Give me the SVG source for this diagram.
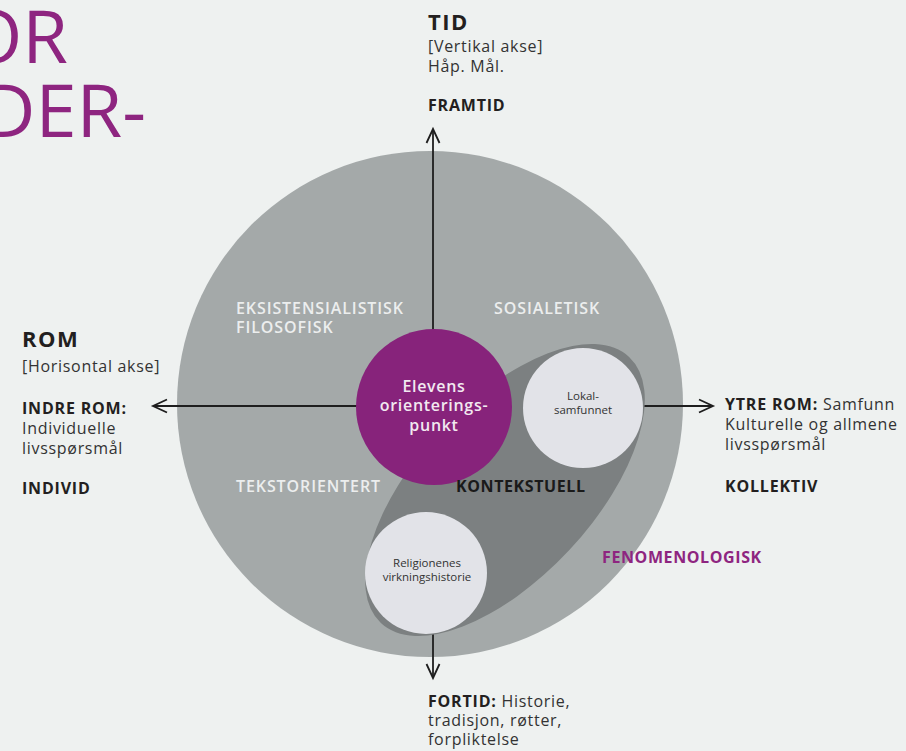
<svg xmlns="http://www.w3.org/2000/svg" width="906" height="751" viewBox="0 0 906 751">
  <style>
    text { font-family: "Open Sans", "Noto Sans", "Liberation Sans", sans-serif; }
    .big { font-size: 74px; font-weight: 400; fill: #8e2580; }
    .head { font-size: 22px; font-weight: 700; fill: #231f20; letter-spacing: 1.5px; }
    .body { font-size: 16px; font-weight: 400; fill: #333333; letter-spacing: 0.7px; }
    .bold { font-size: 16px; font-weight: 700; fill: #231f20; letter-spacing: 0.8px; }
    .quad { font-size: 16px; font-weight: 600; fill: #eceeee; letter-spacing: 0.9px; }
    .ctx { font-size: 16px; font-weight: 700; fill: #1a1a1a; letter-spacing: 0.6px; }
    .feno { font-size: 16px; font-weight: 700; fill: #8e2580; letter-spacing: 0.6px; }
    .center { font-size: 16px; font-weight: 600; fill: #f2e9f0; text-anchor: middle; letter-spacing: 0.7px; }
    .small { font-size: 11.5px; font-weight: 400; fill: #333333; text-anchor: middle; }
    .axis { stroke: #1e1e1e; stroke-width: 1.8; fill: none; }
  </style>
  <defs>
    <marker id="chev" markerUnits="userSpaceOnUse" markerWidth="20" markerHeight="16" viewBox="-16 -8 20 16" refX="0" refY="0" orient="auto-start-reverse" overflow="visible">
      <path d="M-14,-6.5 L0,0 L-14,6.5" fill="none" stroke="#1e1e1e" stroke-width="1.8"/>
    </marker>
  </defs>

  <rect x="0" y="0" width="906" height="751" fill="#eef1f0"/>

  <g id="title">
    <text class="big" x="68" y="63" text-anchor="end">OR</text>
    <text class="big" x="146" y="137" text-anchor="end">DER-</text>
  </g>

  <g id="outer-circle">
    <circle cx="430" cy="404" r="253" fill="#a4a9a9"/>
  </g>

  <g id="connectors">
    <line class="axis" x1="433" y1="678" x2="433" y2="129" marker-start="url(#chev)" marker-end="url(#chev)"/>
    <line class="axis" x1="153" y1="406" x2="713" y2="406" marker-start="url(#chev)" marker-end="url(#chev)"/>
  </g>

  <g id="kontekstuell-ellipse">
    <ellipse cx="505" cy="490" rx="182" ry="88" transform="rotate(-47 505 490)" fill="#7c8081"/>
  </g>

  <g id="elevens">
    <circle cx="434" cy="407" r="78" fill="#87237b"/>
    <text class="center" x="434" y="392">Elevens</text>
    <text class="center" x="434" y="411">orienterings-</text>
    <text class="center" x="434" y="431">punkt</text>
  </g>

  <g id="lokalsamfunnet">
    <circle cx="583" cy="408" r="60" fill="#e2e3e8"/>
    <text class="small" x="583" y="400">Lokal-</text>
    <text class="small" x="583" y="414">samfunnet</text>
  </g>

  <g id="religionenes">
    <circle cx="426" cy="573" r="61" fill="#e2e3e8"/>
    <text class="small" x="427" y="567">Religionenes</text>
    <text class="small" x="427" y="581">virkningshistorie</text>
  </g>

  <g id="quadrant-labels">
    <text class="quad" x="236" y="314">EKSISTENSIALISTISK</text>
    <text class="quad" x="236" y="333">FILOSOFISK</text>
    <text class="quad" x="494" y="314">SOSIALETISK</text>
    <text class="quad" x="236" y="492">TEKSTORIENTERT</text>
    <text class="ctx" x="456" y="492">KONTEKSTUELL</text>
    <text class="feno" x="602" y="563">FENOMENOLOGISK</text>
  </g>

  <g id="tid">
    <text class="head" x="428" y="30">TID</text>
    <text class="body" x="428" y="52">[Vertikal akse]</text>
    <text class="body" x="428" y="72">Håp. Mål.</text>
    <text class="bold" x="428" y="111">FRAMTID</text>
  </g>

  <g id="rom">
    <text class="head" x="22" y="347">ROM</text>
    <text class="body" x="22" y="372">[Horisontal akse]</text>
    <text class="bold" x="22" y="414">INDRE ROM:</text>
    <text class="body" x="22" y="434">Individuelle</text>
    <text class="body" x="22" y="454">livsspørsmål</text>
    <text class="bold" x="22" y="494">INDIVID</text>
  </g>

  <g id="ytre-rom">
    <text x="725" y="410"><tspan class="bold">YTRE ROM:</tspan><tspan class="body"> Samfunn</tspan></text>
    <text class="body" x="725" y="430">Kulturelle og allmene</text>
    <text class="body" x="725" y="450">livsspørsmål</text>
    <text class="bold" x="725" y="492">KOLLEKTIV</text>
  </g>

  <g id="fortid">
    <text x="428" y="707"><tspan class="bold">FORTID:</tspan><tspan class="body"> Historie,</tspan></text>
    <text class="body" x="428" y="726">tradisjon, røtter,</text>
    <text class="body" x="428" y="745">forpliktelse</text>
  </g>
</svg>
